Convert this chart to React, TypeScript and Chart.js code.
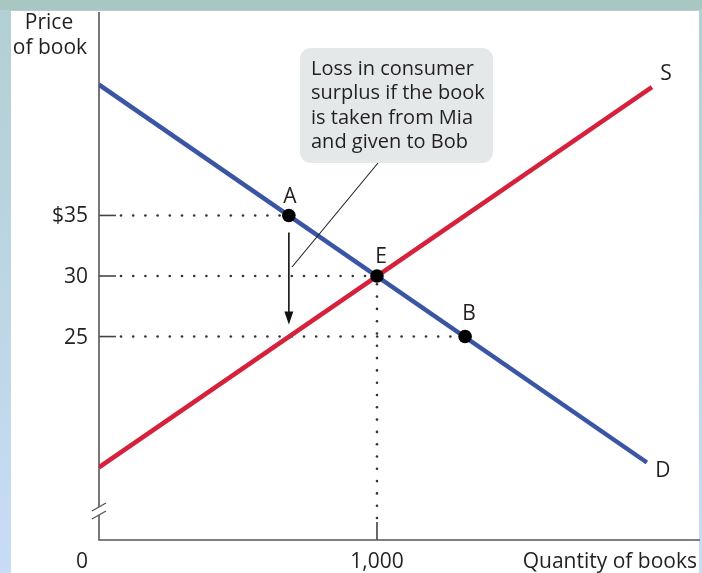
import React, { useEffect, useRef } from 'react';
import { Chart, registerables } from 'chart.js';

Chart.register(...registerables);

// ---- data ----
const demandQ = [0, 1971];
const demandP = [45.8, 14.6];
const supplyQ = [0, 1989];
const supplyP = [14.2, 45.6];
const pointLabels = ['A', 'E', 'B'];
const pointQ = [683, 1000, 1317];
const pointP = [35, 30, 25];
const yTickValues = [35, 30, 25];
const yTickLabels = ['$35', '30', '25'];
const xTickValues = [1000];
const xTickLabels = ['1,000'];
const arrowQ = 683;
const arrowFromP = 33.6;
const arrowToP = 26.0;
const annotationLines = ['Loss in consumer', 'surplus if the book', 'is taken from Mia', 'and given to Bob'];
const yAxisTitle = ['Price', 'of book'];
const xAxisTitle = 'Quantity of books';
const originLabel = '0';
const xMin = 0, xMax = 2162, yMin = 8.2, yMax = 51.8;

const FONT = '"Open Sans", "Noto Sans", sans-serif';
const BLUE = '#3a55a4';
const RED = '#d5213b';
const TEXT = '#231f20';

const deco = {
  id: 'deco',
  beforeDraw(chart: any) {
    const { ctx, width, height } = chart;
    ctx.save();
    const g = ctx.createLinearGradient(0, 0, 0, height);
    g.addColorStop(0, '#b2cfd2');
    g.addColorStop(1, '#c8dcf6');
    ctx.fillStyle = g;
    ctx.fillRect(0, 0, width, height);
    ctx.fillStyle = '#a8c7c3';
    ctx.fillRect(0, 0, width, 10);
    ctx.fillStyle = '#ffffff';
    ctx.fillRect(11, 11, 688, height - 11);
    ctx.restore();
  },
  beforeDatasetsDraw(chart: any) {
    const { ctx, chartArea: a, scales } = chart;
    const x = scales.x, y = scales.y;
    ctx.save();
    // horizontal guides
    yTickValues.forEach((v) => {
      const py = y.getPixelForValue(v);
      const idx = pointP.indexOf(v);
      const px = x.getPixelForValue(pointQ[idx]);
      ctx.strokeStyle = '#444';
      ctx.lineWidth = 1.6;
      ctx.beginPath();
      ctx.moveTo(a.left, py);
      ctx.lineTo(a.left + 17, py);
      ctx.stroke();
      ctx.fillStyle = '#333';
      for (let dx = a.left + 22; dx < px - 7; dx += 12.2) {
        ctx.beginPath();
        ctx.arc(dx, py, 1.3, 0, Math.PI * 2);
        ctx.fill();
      }
    });
    // vertical guides
    xTickValues.forEach((v) => {
      const px = x.getPixelForValue(v);
      const idx = pointQ.indexOf(v);
      const py = y.getPixelForValue(pointP[idx]);
      ctx.strokeStyle = '#444';
      ctx.lineWidth = 1.6;
      ctx.beginPath();
      ctx.moveTo(px, a.bottom);
      ctx.lineTo(px, a.bottom - 18);
      ctx.stroke();
      ctx.fillStyle = '#333';
      for (let dy = a.bottom - 22; dy > py + 7; dy -= 12.3) {
        ctx.beginPath();
        ctx.arc(px, dy, 1.3, 0, Math.PI * 2);
        ctx.fill();
      }
    });
    // axes
    const bTop = 507, bBot = 515;
    ctx.strokeStyle = '#555';
    ctx.lineWidth = 1.6;
    ctx.beginPath();
    ctx.moveTo(a.left, a.top);
    ctx.lineTo(a.left, bTop);
    ctx.moveTo(a.left, bBot);
    ctx.lineTo(a.left, a.bottom);
    ctx.lineTo(a.right, a.bottom);
    ctx.stroke();
    ctx.lineWidth = 1.4;
    ctx.beginPath();
    ctx.moveTo(a.left - 7, bTop + 4);
    ctx.lineTo(a.left + 7, bTop - 4);
    ctx.moveTo(a.left - 7, bBot + 4);
    ctx.lineTo(a.left + 7, bBot - 4);
    ctx.stroke();
    ctx.restore();
  },
  afterDatasetsDraw(chart: any) {
    const { ctx, chartArea: a, scales } = chart;
    const x = scales.x, y = scales.y;
    ctx.save();
    ctx.fillStyle = TEXT;
    ctx.font = `21px ${FONT}`;
    ctx.textBaseline = 'middle';
    // y tick labels
    ctx.textAlign = 'right';
    yTickValues.forEach((v, i) => {
      ctx.fillText(yTickLabels[i], a.left - 11, y.getPixelForValue(v) + 1);
    });
    // x tick labels
    ctx.textAlign = 'center';
    xTickValues.forEach((v, i) => {
      ctx.fillText(xTickLabels[i], x.getPixelForValue(v), 562);
    });
    ctx.fillText(originLabel, a.left - 17, 562);
    ctx.textAlign = 'right';
    ctx.fillText(xAxisTitle, 697, 562);
    // y axis title
    ctx.textAlign = 'center';
    ctx.fillText(yAxisTitle[0], 49, 23);
    ctx.fillText(yAxisTitle[1], 50, 48);
    // point labels
    const offs = [[1, -18], [4, -19], [4, -23]];
    pointLabels.forEach((l, i) => {
      ctx.fillText(l, x.getPixelForValue(pointQ[i]) + offs[i][0], y.getPixelForValue(pointP[i]) + offs[i][1]);
    });
    // curve labels
    const sx = x.getPixelForValue(supplyQ[1]), sy = y.getPixelForValue(supplyP[1]);
    ctx.fillText('S', sx + 14, sy - 13);
    const dx = x.getPixelForValue(demandQ[1]), dy = y.getPixelForValue(demandP[1]);
    ctx.fillText('D', dx + 16, dy + 9);
    // arrow
    const ax = x.getPixelForValue(arrowQ);
    const ay1 = y.getPixelForValue(arrowFromP);
    const ay2 = y.getPixelForValue(arrowToP);
    ctx.strokeStyle = '#111';
    ctx.lineWidth = 1.6;
    ctx.beginPath();
    ctx.moveTo(ax, ay1);
    ctx.lineTo(ax, ay2 - 8);
    ctx.stroke();
    ctx.fillStyle = '#111';
    ctx.beginPath();
    ctx.moveTo(ax, ay2);
    ctx.lineTo(ax - 4.5, ay2 - 13);
    ctx.lineTo(ax + 4.5, ay2 - 13);
    ctx.closePath();
    ctx.fill();
    // annotation box
    ctx.fillStyle = '#e5e8e8';
    ctx.beginPath();
    (ctx as any).roundRect(300, 48, 193, 115, 11);
    ctx.fill();
    ctx.fillStyle = TEXT;
    ctx.textAlign = 'left';
    ctx.font = `20px ${FONT}`;
    annotationLines.forEach((t, i) => {
      ctx.fillText(t, 311, 69 + i * 24.5);
    });
    // leader line
    ctx.strokeStyle = '#222';
    ctx.lineWidth = 1.1;
    ctx.beginPath();
    ctx.moveTo(378, 163);
    ctx.lineTo(292, 267);
    ctx.stroke();
    ctx.restore();
  },
};

export default function App() {
  const ref = useRef<HTMLCanvasElement | null>(null);
  useEffect(() => {
    if (!ref.current) return;
    const chart = new Chart(ref.current, {
      type: 'line',
      data: {
        datasets: [
          {
            label: 'points',
            data: pointQ.map((q, i) => ({ x: q, y: pointP[i] })),
            showLine: false,
            pointRadius: 6.8,
            pointBackgroundColor: '#000',
            pointBorderWidth: 0,
          },
          {
            label: 'S',
            data: supplyQ.map((q, i) => ({ x: q, y: supplyP[i] })),
            borderColor: RED,
            borderWidth: 4.5,
            pointRadius: 0,
          },
          {
            label: 'D',
            data: demandQ.map((q, i) => ({ x: q, y: demandP[i] })),
            borderColor: BLUE,
            borderWidth: 4.5,
            pointRadius: 0,
          },
        ],
      },
      options: {
        animation: false,
        responsive: false,
        devicePixelRatio: 1,
        layout: { autoPadding: false, padding: { left: 99, right: 2, top: 12, bottom: 33 } },
        scales: {
          x: { type: 'linear', min: xMin, max: xMax, display: false },
          y: { type: 'linear', min: yMin, max: yMax, display: false },
        },
        plugins: { legend: { display: false }, tooltip: { enabled: false } },
        events: [],
      } as any,
      plugins: [deco],
    });
    return () => chart.destroy();
  }, []);
  return (
    <div style={{ position: 'absolute', left: 0, top: 0, width: 702, height: 573 }}>
      <canvas ref={ref} width={702} height={573} style={{ display: 'block' }} />
    </div>
  );
}
